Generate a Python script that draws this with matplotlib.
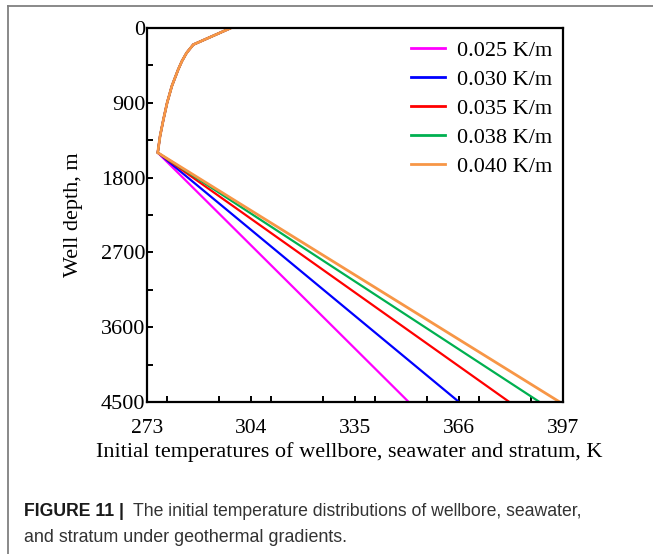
import numpy as np
import matplotlib
matplotlib.use("Agg")
import matplotlib.pyplot as plt
from matplotlib.ticker import MultipleLocator
from matplotlib.lines import Line2D

# seawater section (shared by all cases), depth in m / temperature in K
sea_depth = [0, 200, 300, 400, 500, 700, 900, 1100, 1300, 1500]
sea_temp = [298.0, 286.8, 284.8, 283.4, 282.3, 280.4, 279.0, 277.9, 276.9, 276.2]

# stratum section: from seabed down to well bottom
bottom_depth = 4500
gradients = ["0.025 K/m", "0.030 K/m", "0.035 K/m", "0.038 K/m", "0.040 K/m"]
bottom_temp = [351.0, 366.0, 381.0, 390.0, 396.0]
colors = ["#ff00ff", "#0000ff", "#ff0000", "#00b050", "#f79646"]

xticks = [273, 304, 335, 366, 397]
yticks = [0, 900, 1800, 2700, 3600, 4500]

plt.rcParams['font.family'] = ['Liberation Serif', 'DejaVu Serif']

fig = plt.figure(figsize=(6.53, 5.54), dpi=100)
ax = fig.add_axes([0.2251, 0.2744, 0.6371, 0.6751])

for lab, tb, c in zip(gradients, bottom_temp, colors):
    T = sea_temp + [tb]
    D = sea_depth + [bottom_depth]
    lw = 2.0 if c == "#f79646" else 1.6
    ax.plot(T, D, color=c, lw=lw, label=lab, solid_joinstyle='miter')

ax.set_xlim(273, 397)
ax.set_ylim(4500, 0)
ax.set_xticks(xticks)
ax.set_yticks(yticks)
ax.xaxis.set_minor_locator(MultipleLocator(15.5))
ax.yaxis.set_minor_locator(MultipleLocator(450))
ax.tick_params(which='both', direction='in', length=4, width=1.4,
               top=False, right=False)
ax.tick_params(axis='x', which='major', pad=12.5, labelsize=15.5)
ax.tick_params(axis='y', which='major', pad=1, labelsize=16)
for s in ax.spines.values():
    s.set_linewidth(1.6)

ax.set_xlabel("Initial temperatures of wellbore, seawater and stratum, K",
              fontsize=16, labelpad=2.5)
ax.xaxis.label.set_x(0.486)
ax.set_ylabel("Well depth, m", fontsize=16, labelpad=13)

handles = [Line2D([], [], color=c, lw=2) for c in colors]
ax.legend(handles, gradients, loc='upper right', bbox_to_anchor=(1.011, 1.008),
          frameon=False, fontsize=16, handlelength=1.5, handletextpad=0.55,
          labelspacing=0.38, borderaxespad=0.3)

# frame lines of the figure panel
fig.add_artist(Line2D([8 / 653, 1], [1 - 5.5 / 554] * 2, color="#808080", lw=1.3))
fig.add_artist(Line2D([8 / 653] * 2, [0, 1 - 5.5 / 554], color="#808080", lw=1.3))

cap_font = ['Liberation Sans', 'DejaVu Sans']
fig.text(24 / 653, 1 - 511 / 554, "FIGURE 11 |", fontsize=12.7, fontweight='bold',
         family=cap_font, va='center', color="#1a1a1a")
fig.text(133 / 653, 1 - 511 / 554,
         "The initial temperature distributions of wellbore, seawater,",
         fontsize=12.7, family=cap_font, va='center', color="#333333")
fig.text(24 / 653, 1 - 537 / 554, "and stratum under geothermal gradients.",
         fontsize=12.9, family=cap_font, va='center', color="#333333")

fig.savefig("out.png", dpi=100)
